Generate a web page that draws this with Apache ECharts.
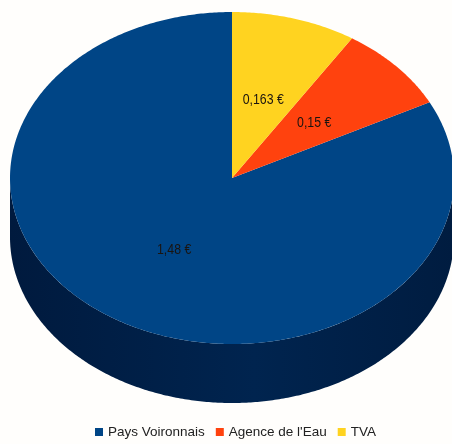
<!DOCTYPE html>
<html>
<head>
<meta charset="utf-8">
<style>html,body{margin:0;padding:0;background:#fffefc}#c{width:452px;height:444px}</style>
<script src="https://cdn.jsdelivr.net/npm/echarts@6/dist/echarts.min.js"></script>
</head>
<body>
<div id="c"></div>
<script>
// Water bill breakdown, clockwise from twelve o'clock: TVA, Agence de l'Eau, Pays Voironnais
const categories = ['Pays Voironnais', "Agence de l'Eau", 'TVA'];
const values = [1.48, 0.15, 0.163];
const valueLabels = ['1,48 €', '0,15 €', '0,163 €'];
const colors = ['#004586', '#ff420e', '#ffd320'];
const clockwiseOrder = [2, 1, 0];

const CX = 232, CY = 178, RX = 222, RY = 166, DEPTH = 59;
const total = values.reduce((a, b) => a + b, 0);

// Start and end angle of each slice, in radians from the top of the disc
const spans = {};
let running = 0;
clockwiseOrder.forEach(i => {
  const start = running / total * 2 * Math.PI;
  running += values[i];
  spans[i] = [start, running / total * 2 * Math.PI];
});

const onRim = a => [CX + RX * Math.sin(a), CY - RY * Math.cos(a)];

function arc(from, to) {
  const n = Math.max(2, Math.ceil((to - from) / 0.01));
  const pts = [];
  for (let k = 0; k <= n; k++) pts.push(onRim(from + (to - from) * k / n));
  return pts;
}

function renderSlice(index) {
  return function (params, api) {
    const [a0, a1] = spans[index];
    const children = [];
    // Side wall: only the part of the slice facing the viewer
    const s0 = Math.max(a0, Math.PI / 2), s1 = Math.min(a1, 3 * Math.PI / 2);
    if (s1 > s0) {
      const top = arc(s0, s1);
      const bottom = top.slice().reverse().map(p => [p[0], p[1] + DEPTH]);
      children.push({
        type: 'polygon',
        shape: { points: top.concat(bottom) },
        style: {
          fill: {
            type: 'linear', x: 0, y: 0, x2: 1, y2: 0,
            colorStops: [
              { offset: 0, color: '#001a3e' },
              { offset: 0.55, color: '#00244f' },
              { offset: 1, color: '#001c40' }
            ]
          }
        }
      });
    }
    // Top face
    children.push({
      type: 'polygon',
      shape: { points: [[CX, CY]].concat(arc(a0, a1)) },
      style: { fill: colors[index] }
    });
    // Value label halfway along the slice's middle radius, squeezed horizontally
    const mid = (a0 + a1) / 2;
    children.push({
      type: 'text',
      z2: 10,
      x: CX + 0.5 * RX * Math.sin(mid),
      y: CY - 0.5 * RY * Math.cos(mid) + 1,
      scaleX: 0.82,
      style: {
        text: valueLabels[index],
        fill: '#1a1410',
        font: '15px "Liberation Sans", sans-serif',
        align: 'center',
        verticalAlign: 'middle'
      }
    });
    return { type: 'group', children };
  };
}

const chart = echarts.init(document.getElementById('c'), null, { renderer: 'canvas' });
chart.setOption({
  animation: false,
  backgroundColor: '#fffefc',
  legend: {
    data: categories,
    left: 95,
    top: 425,
    padding: 0,
    itemWidth: 8,
    itemHeight: 8,
    itemGap: 11,
    icon: 'rect',
    textStyle: {
      color: '#222',
      fontSize: 13.5,
      fontFamily: '"Liberation Sans", sans-serif'
    }
  },
  series: categories.map((name, i) => ({
    type: 'custom',
    name,
    coordinateSystem: 'none',
    clip: false,
    silent: true,
    itemStyle: { color: colors[i] },
    data: [[values[i]]],
    renderItem: renderSlice(i)
  }))
});
</script>
</body>
</html>
